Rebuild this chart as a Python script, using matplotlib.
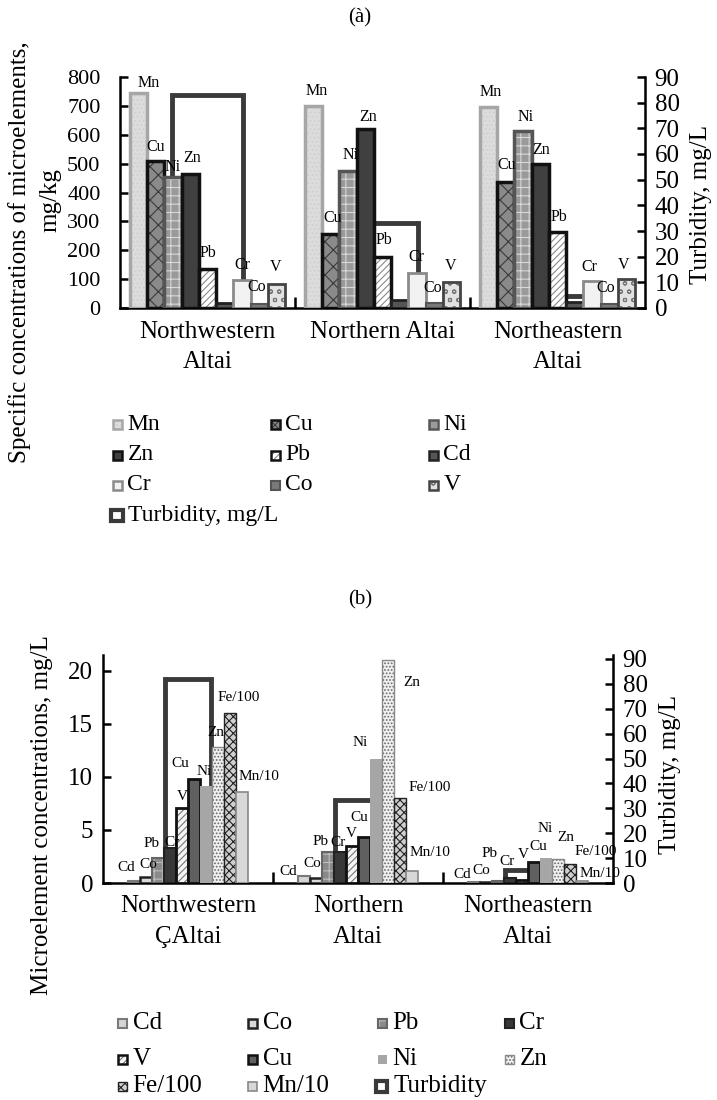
import matplotlib
matplotlib.use('Agg')
import matplotlib.pyplot as plt
from matplotlib.patches import Rectangle

plt.rcParams['font.family'] = ['Liberation Serif', 'DejaVu Serif']
plt.rcParams['hatch.linewidth'] = 0.8

W, H = 717, 1100

# ---------------- data: panel (a), mg/kg ----------------
regions_a = ['Northwestern\nAltai', 'Northern Altai', 'Northeastern\nAltai']
elements_a = ['Mn', 'Cu', 'Ni', 'Zn', 'Pb', 'Cd', 'Cr', 'Co', 'V']
mn_a = [745, 700, 695]
cu_a = [510, 257, 436]
ni_a = [452, 474, 612]
zn_a = [465, 621, 500]
pb_a = [135, 175, 263]
cd_a = [16, 27, 20]
cr_a = [97, 122, 95]
co_a = [14, 16, 14]
v_a = [83, 89, 100]
turb_a = [83, 33, 4.5]
yticks_a = [0, 100, 200, 300, 400, 500, 600, 700, 800]
yticks_a2 = [0, 10, 20, 30, 40, 50, 60, 70, 80, 90]

# ---------------- data: panel (b), mg/L ----------------
regions_b = ['Northwestern\nÇAltai', 'Northern\nAltai', 'Northeastern\nAltai']
elements_b = ['Cd', 'Co', 'Pb', 'Cr', 'V', 'Cu', 'Ni', 'Zn', 'Fe/100', 'Mn/10']
cd_b = [0.2, 0.66, 0.1]
co_b = [0.6, 0.5, 0.1]
pb_b = [2.4, 2.9, 0.2]
cr_b = [3.3, 2.9, 0.5]
v_b = [7.05, 3.5, 0.3]
cu_b = [9.8, 4.3, 2.0]
ni_b = [9.1, 11.7, 2.4]
zn_b = [12.8, 21.0, 2.3]
fe100_b = [16.0, 8.05, 1.75]
mn10_b = [8.6, 1.15, 0.2]
turb_b = [82, 33.5, 5.2]
yticks_b = [0, 5, 10, 15, 20]
yticks_b2 = [0, 10, 20, 30, 40, 50, 60, 70, 80, 90]

series_a = [mn_a, cu_a, ni_a, zn_a, pb_a, cd_a, cr_a, co_a, v_a]
series_b = [cd_b, co_b, pb_b, cr_b, v_b, cu_b, ni_b, zn_b, fe100_b, mn10_b]

# ---------------- styles ----------------
sty_a = [
    dict(fc='#dcdcdc', ec='#a6a6a6', lw=2.5, hatch='....', hc='#cfcfcf'),
    dict(fc='#8a8a8a', ec='#111111', lw=2.5, hatch='xx', hc='#3a3a3a'),
    dict(fc='#9a9a9a', ec='#555555', lw=2.5, hatch='++', hc='#d8d8d8'),
    dict(fc='#404040', ec='#111111', lw=2.5, hatch=None, hc=None),
    dict(fc='#ffffff', ec='#111111', lw=2.5, hatch='/////', hc='#8a8a8a'),
    dict(fc='#555555', ec='#222222', lw=2.0, hatch=None, hc=None),
    dict(fc='#f2f2f2', ec='#8a8a8a', lw=2.0, hatch=None, hc=None),
    dict(fc='#7a7a7a', ec='#555555', lw=1.5, hatch=None, hc=None),
    dict(fc='#e2e2e2', ec='#444444', lw=2.0, hatch='oo', hc='#777777'),
]
sty_b = [
    dict(fc='#d6d6d6', ec='#7a7a7a', lw=1.5, hatch=None, hc=None),
    dict(fc='#dadada', ec='#222222', lw=1.8, hatch=None, hc=None),
    dict(fc='#8a8a8a', ec='#666666', lw=1.5, hatch='++', hc='#bdbdbd'),
    dict(fc='#383838', ec='#222222', lw=1.5, hatch=None, hc=None),
    dict(fc='#f4f4f4', ec='#111111', lw=2.0, hatch='/////', hc='#777777'),
    dict(fc='#606060', ec='#111111', lw=2.0, hatch=None, hc=None),
    dict(fc='#a6a6a6', ec='none', lw=0.0, hatch=None, hc=None),
    dict(fc='#f0f0f0', ec='#888888', lw=1.0, hatch='.....', hc='#666666'),
    dict(fc='#cfcfcf', ec='#222222', lw=1.0, hatch='xxxx', hc='#222222'),
    dict(fc='#d8d8d8', ec='#888888', lw=1.2, hatch=None, hc=None),
]
turb_style = dict(ec='#3a3a3a', lw=3.5)

# label offsets in pixels (dx, dy) relative to bar centre / bar top (image coords)
lab_a = [
    [(10, -10), (0, -14), (0, -10), (2, -16), (0, -16), None, (0, -15), (-2, -17), (-1, -17)],
    [(3, -15), (2, -16), (3, -16), (3, -12), (1, -17), None, (-1, -16), (-1, -15), (-1, -16)],
    [(2, -15), (1, -17), (3, -14), (1, -14), (1, -15), None, (-3, -14), (-3, -16), (-3, -14)],
]
lab_b = [
    [(-8, -13), (2, -12), (-6, -14), (2, -6), (0, -12), (-14, -16), (-2, -15), (-2, -15), (9, -16), (17, -15)],
    [(-16, -5), (-4, -14), (-7, -11), (-2, -10), (-1, -12), (-5, -20), (-16, -16), (24, 22), (30, -10), (18, -18)],
    [(-12, -7), (-5, -11), (-8, -27), (-3, -16), (1, -25), (4, -15), (-1, -29), (8, -21), (26, -13), (18, -7)],
]

fig = plt.figure(figsize=(W / 100, H / 100), dpi=100)


def fx(x):
    return x / W


def fy(y):
    return 1 - y / H


def draw_bar(ax, x, h, w, st, z):
    ax.bar(x, h, w, color=st['fc'], edgecolor=(st['hc'] if st['hatch'] else 'none'),
           hatch=st['hatch'], linewidth=0, zorder=z)
    if st['lw'] > 0:
        ax.bar(x, h, w, fill=False, edgecolor=st['ec'], linewidth=st['lw'], zorder=z + 0.01)


def panel(rect, series, styles, labels, elements, regions, turb, bw, tw,
          ylim, ylim2, yt, yt2, lpad, lsize, labsize):
    ax = fig.add_axes(rect)
    ax2 = ax.twinx()
    ax.set_zorder(ax2.get_zorder() + 1)
    ax.patch.set_visible(False)
    n = len(series)
    for i in range(3):
        for j, vals in enumerate(series):
            xc = i + 0.5 + (j - (n - 1) / 2) * bw
            draw_bar(ax, xc, vals[i], bw, styles[j], 3 + j * 0.05)
            off = labels[i][j]
            if off is not None:
                ax.annotate(elements[j], xy=(xc, vals[i]), xytext=(off[0], -off[1]),
                            textcoords='offset pixels', ha='center', va='center',
                            fontsize=labsize, zorder=10)
        ax2.bar(i + 0.5, turb[i], tw, fill=False, edgecolor=turb_style['ec'],
                linewidth=turb_style['lw'], zorder=2)
    ax.set_xlim(0, 3)
    ax.set_ylim(*ylim)
    ax2.set_ylim(*ylim2)
    ax.set_yticks(yt)
    ax2.set_yticks(yt2)
    ax.set_xticks([1, 2])
    ax.set_xticklabels([])
    ax.set_xticks([0.5, 1.5, 2.5], minor=True)
    ax.set_xticklabels(regions, minor=True, fontsize=18, linespacing=1.5)
    ax.tick_params(axis='x', which='major', direction='in', length=8, width=1.8)
    ax.tick_params(axis='x', which='minor', length=0, pad=9)
    ax.tick_params(axis='y', direction='in', length=6, width=1.8, labelsize=lsize, pad=lpad)
    ax2.tick_params(axis='y', direction='in', length=6, width=1.8, labelsize=18, pad=7)
    for a in (ax, ax2):
        a.spines['top'].set_visible(False)
        for s in a.spines.values():
            s.set_linewidth(1.8)
    ax2.spines['left'].set_visible(False)
    ax2.spines['bottom'].set_visible(False)
    ax.spines['right'].set_visible(False)
    return ax, ax2


# ---------------- panel (a) ----------------
rect_a = [fx(120), fy(308), (645 - 120) / W, (308 - 77) / H]
panel(rect_a, series_a, sty_a, lab_a, elements_a, regions_a, turb_a, 0.0983, 0.405,
      (0, 800), (0, 90), yticks_a, yticks_a2, 14, 16, 11.5)

# ---------------- panel (b) ----------------
rect_b = [fx(103), fy(883), (613 - 103) / W, (883 - 655) / H]
panel(rect_b, series_b, sty_b, lab_b, elements_b, regions_b, turb_b, 0.0706, 0.265,
      (0, 21.5), (0, 91.6), yticks_b, yticks_b2, 7, 18, 11)

# ---------------- titles and axis labels ----------------
fig.text(fx(360), fy(18), '(à)', ha='center', va='center', fontsize=15)
fig.text(fx(360), fy(600), '(b)', ha='center', va='center', fontsize=15)
fig.text(fx(20), fy(252), 'Specific concentrations of microelements,', rotation=90,
         ha='center', va='center', fontsize=18)
fig.text(fx(50), fy(200), 'mg/kg', rotation=90, ha='center', va='center', fontsize=18)
fig.text(fx(701), fy(204), 'Turbidity, mg/L', rotation=90, ha='center', va='center', fontsize=18)
fig.text(fx(42), fy(815), 'Microelement concentrations, mg/L', rotation=90,
         ha='center', va='center', fontsize=18)
fig.text(fx(670), fy(774), 'Turbidity, mg/L', rotation=90, ha='center', va='center', fontsize=18)


# ---------------- legends (manual, row-wise order) ----------------
def legend_entry(xm, ym, size, st, label, fs, hollow=False):
    x0, y0 = fx(xm - size / 2), fy(ym + size / 2)
    w, h = size / W, size / H
    if hollow:
        fig.add_artist(Rectangle((x0, y0), w, h, transform=fig.transFigure,
                                 facecolor='white', edgecolor=turb_style['ec'], linewidth=3))
    else:
        fig.add_artist(Rectangle((x0, y0), w, h, transform=fig.transFigure,
                                 facecolor=st['fc'], edgecolor=(st['hc'] if st['hatch'] else 'none'),
                                 hatch=st['hatch'], linewidth=0))
        if st['lw'] > 0:
            fig.add_artist(Rectangle((x0, y0), w, h, transform=fig.transFigure, fill=False,
                                     edgecolor=st['ec'], linewidth=min(st['lw'], 1.8)))
    fig.text(fx(xm + size / 2 + 6), fy(ym), label, ha='left', va='center', fontsize=fs)


cols_a = [117, 275, 433]
rows_a = [425, 455, 485, 515]
for k, (el, st) in enumerate(zip(elements_a, sty_a)):
    legend_entry(cols_a[k % 3], rows_a[k // 3], 9, st, el, 17)
legend_entry(cols_a[0], rows_a[3], 11, None, 'Turbidity, mg/L', 17, hollow=True)

cols_b = [122, 252, 382, 509]
rows_b = [1023, 1059, 1086]
for k, (el, st) in enumerate(zip(elements_b, sty_b)):
    legend_entry(cols_b[k % 4], rows_b[k // 4], 9, st, el, 18)
legend_entry(cols_b[2], rows_b[2], 11, None, 'Turbidity', 18, hollow=True)

fig.savefig('out.png', dpi=100)
